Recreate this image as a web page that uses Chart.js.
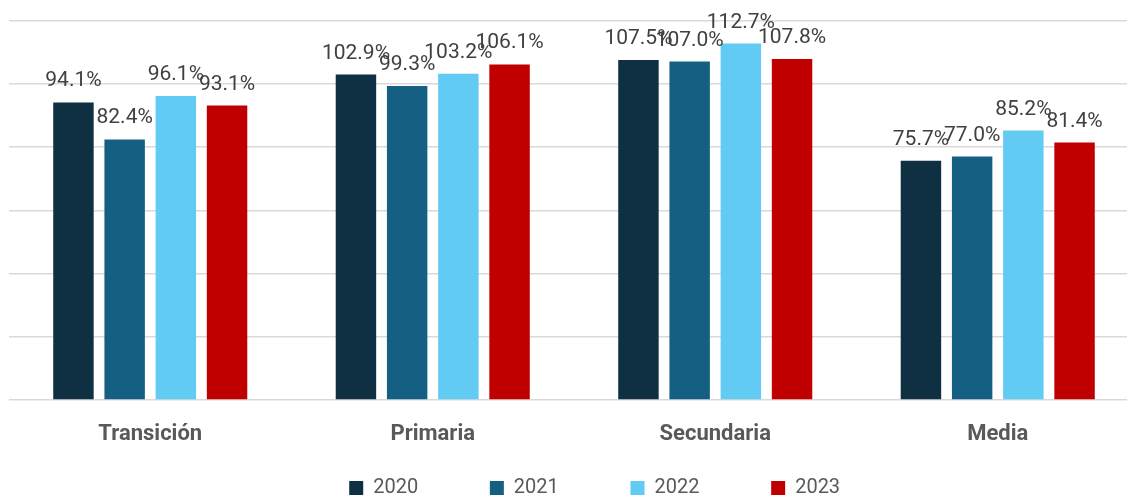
<!DOCTYPE html>
<html>
<head>
<meta charset="utf-8">
<script src="https://cdn.jsdelivr.net/npm/chart.js@4/dist/chart.umd.min.js"></script>
<style>
  html, body { margin: 0; padding: 0; background: #fff; overflow: hidden; }
  canvas { display: block; }
</style>
</head>
<body>
<!-- a bit wider than the window: the plot runs past the right edge like the original -->
<canvas id="myChart" width="1139" height="495"></canvas>
<script>
let categories = ['Transición', 'Primaria', 'Secundaria', 'Media'];
let years = ['2020', '2021', '2022', '2023'];
let values2020 = [94.1, 102.9, 107.5, 75.7];
let values2021 = [82.4, 99.3, 107.0, 77.0];
let values2022 = [96.1, 103.2, 112.7, 85.2];
let values2023 = [93.1, 106.1, 107.8, 81.4];
let colors = ['#0e3042', '#156082', '#61cbf3', '#c00000'];

let allValues = [values2020, values2021, values2022, values2023];

// little plugin to put the % above each bar
const barLabels = {
  id: 'barLabels',
  afterDatasetsDraw(chart) {
    let ctx = chart.ctx;
    ctx.save();
    ctx.font = '21px Roboto';
    ctx.fillStyle = '#404040';
    ctx.textAlign = 'center';
    ctx.textBaseline = 'alphabetic';
    chart.data.datasets.forEach(function(ds, i) {
      let meta = chart.getDatasetMeta(i);
      meta.data.forEach(function(bar, j) {
        ctx.fillText(ds.data[j].toFixed(1) + '%', bar.x, bar.y - 16);
      });
    });
    ctx.restore();
  }
};

// nudge the legend like the original (a bit right, a bit up)
const moveLegend = {
  id: 'moveLegend',
  afterLayout(chart) {
    if (chart.legend) {
      chart.legend.left += 40.5;
      chart.legend.right += 40.5;
      chart.legend.top -= 22.5;
      chart.legend.bottom -= 22.5;
    }
  }
};

const data = {
  labels: categories,
  datasets: years.map(function(y, i) {
    return {
      label: y + '        ',
      data: allValues[i],
      backgroundColor: colors[i],
      barPercentage: 0.79,
      categoryPercentage: 0.725
    };
  })
};

const config = {
  type: 'bar',
  data: data,
  options: {
    responsive: false,
    animation: false,
    layout: {
      padding: { left: 9, right: 0, top: 20.5, bottom: -35.5 }
    },
    plugins: {
      tooltip: { enabled: false },
      legend: {
        position: 'bottom',
        labels: {
          font: { family: 'Roboto', size: 20 },
          color: '#595959',
          boxWidth: 14,
          boxHeight: 14,
          padding: 32
        }
      }
    },
    scales: {
      x: {
        grid: { display: false, drawTicks: false },
        border: { display: false },
        ticks: {
          font: { family: 'Roboto', size: 22, weight: 'bold' },
          color: '#595959',
          padding: 21
        }
      },
      y: {
        min: 0,
        max: 120,
        ticks: { stepSize: 20, display: false },
        border: { display: false },
        grid: { color: '#d9d9d9', lineWidth: 1.5, drawTicks: false }
      }
    }
  },
  plugins: [barLabels, moveLegend]
};

let canvasChart = document.getElementById('myChart');
new Chart(canvasChart, config);
</script>
</body>
</html>
